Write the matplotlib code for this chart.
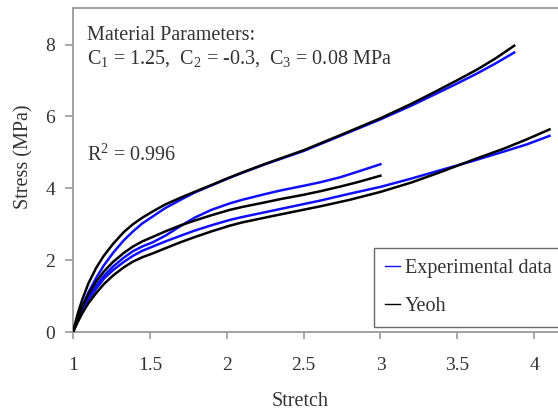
import matplotlib
matplotlib.use("Agg")
import matplotlib.pyplot as plt
from matplotlib.lines import Line2D

plt.rcParams['font.family'] = ['Liberation Serif', 'DejaVu Serif']
plt.rcParams['mathtext.fontset'] = 'custom'
plt.rcParams['mathtext.rm'] = 'Liberation Serif'
plt.rcParams['mathtext.it'] = 'Liberation Serif:italic'

# Test 1 (longest loading branch)
stretch_a = [1.0, 1.03, 1.06, 1.1, 1.15, 1.2, 1.26, 1.33, 1.39, 1.45, 1.52, 1.6, 1.7,
             1.79, 1.9, 2.0, 2.1, 2.25, 2.5, 2.75, 3.0, 3.2, 3.37, 3.5, 3.63, 3.75, 3.87]
exp_a = [0.0, 0.38, 0.72, 1.1, 1.5, 1.85, 2.2, 2.55, 2.8, 3.02, 3.22, 3.45, 3.68,
         3.88, 4.08, 4.26, 4.43, 4.67, 5.04, 5.48, 5.92, 6.3, 6.65, 6.92, 7.2, 7.48, 7.78]
yeoh_a = [0.0, 0.5, 0.9, 1.35, 1.78, 2.12, 2.45, 2.78, 3.0, 3.18, 3.36, 3.55, 3.74,
          3.9, 4.09, 4.27, 4.44, 4.68, 5.06, 5.5, 5.95, 6.35, 6.72, 7.01, 7.31, 7.62, 7.97]

# Test 2 (stops at stretch 3)
stretch_b = [1.0, 1.03, 1.06, 1.1, 1.15, 1.2, 1.26, 1.33, 1.39, 1.45, 1.52, 1.6, 1.7,
             1.79, 1.9, 2.02, 2.1, 2.25, 2.35, 2.5, 2.61, 2.74, 2.85, 3.0]
exp_b = [0.0, 0.33, 0.62, 0.95, 1.28, 1.56, 1.82, 2.07, 2.25, 2.38, 2.5, 2.68, 2.95,
         3.18, 3.4, 3.58, 3.68, 3.84, 3.94, 4.07, 4.17, 4.31, 4.46, 4.67]
yeoh_b = [0.0, 0.38, 0.7, 1.05, 1.4, 1.68, 1.95, 2.2, 2.38, 2.52, 2.65, 2.8, 2.97,
          3.1, 3.25, 3.4, 3.48, 3.61, 3.7, 3.82, 3.92, 4.05, 4.17, 4.35]

# Test 3 (loaded to stretch 4.1)
stretch_c = [1.0, 1.03, 1.06, 1.1, 1.15, 1.2, 1.26, 1.33, 1.39, 1.45, 1.52, 1.6, 1.7,
             1.79, 1.9, 2.02, 2.1, 2.3, 2.61, 2.8, 3.0, 3.2, 3.37, 3.6, 3.8, 3.95, 4.1]
exp_c = [0.0, 0.3, 0.58, 0.9, 1.2, 1.48, 1.72, 1.95, 2.12, 2.26, 2.38, 2.52, 2.68,
         2.82, 2.97, 3.12, 3.2, 3.38, 3.66, 3.85, 4.04, 4.27, 4.48, 4.76, 5.02, 5.22, 5.46]
yeoh_c = [0.0, 0.27, 0.52, 0.8, 1.08, 1.33, 1.57, 1.8, 1.96, 2.08, 2.19, 2.33, 2.5,
          2.64, 2.8, 2.96, 3.05, 3.23, 3.5, 3.68, 3.9, 4.16, 4.42, 4.79, 5.1, 5.36, 5.64]

x_ticks = [1, 1.5, 2, 2.5, 3, 3.5, 4]
x_tick_labels = ['1', '1.5', '2', '2.5', '3', '3.5', '4']
y_ticks = [0, 2, 4, 6, 8]
y_tick_labels = ['0', '2', '4', '6', '8']

blue = '#1010ff'
text_color = '#333333'
spine_color = '#9a9a9a'

fig = plt.figure(figsize=(5.58, 4.11), dpi=100)
ax = fig.add_axes([73 / 558, 79 / 411, 1 - 73 / 558, 324 / 411])

for s, e in [(stretch_a, exp_a), (stretch_b, exp_b), (stretch_c, exp_c)]:
    ax.plot(s, e, color=blue, lw=1.8, solid_joinstyle='round', zorder=2)
for s, y in [(stretch_a, yeoh_a), (stretch_b, yeoh_b), (stretch_c, yeoh_c)]:
    ax.plot(s, y, color='black', lw=1.8, solid_joinstyle='round', zorder=3)

ax.set_xlim(1, 4.155)
ax.set_ylim(0, 9.02)
ax.set_xticks(x_ticks)
ax.set_xticklabels(x_tick_labels)
ax.set_yticks(y_ticks)
ax.set_yticklabels(y_tick_labels)
ax.tick_params(axis='x', direction='out', length=5, width=1.2, color=spine_color,
               pad=13, labelsize=14, labelcolor=text_color)
ax.tick_params(axis='y', direction='out', length=6, width=1.2, color=spine_color,
               pad=7, labelsize=14, labelcolor=text_color)

for side in ['left', 'bottom', 'top']:
    ax.spines[side].set_color(spine_color)
    ax.spines[side].set_linewidth(1.3)
ax.spines['right'].set_visible(False)

ax.set_xlabel('Stretch', fontsize=14.5, color=text_color)
ax.xaxis.set_label_coords(0.468, -0.215)
ax.xaxis.label.set_va('center')
ax.set_ylabel('Stress (MPa)', fontsize=14.5, color=text_color)
ax.yaxis.set_label_coords(-0.102, 0.54)
ax.yaxis.label.set_va('center')

ax.text(14 / 485, 1 - 32 / 324, 'Material Parameters:', transform=ax.transAxes,
        fontsize=14.5, color=text_color, va='baseline')
ax.text(14 / 485, 1 - 56 / 324,
        r'C$_1$ = 1.25,  C$_2$ = -0.3,  C$_3$ = 0.08 MPa', transform=ax.transAxes,
        fontsize=14.5, color=text_color, va='baseline')
ax.text(14 / 485, 1 - 153 / 324, r'R$^2$ = 0.996', transform=ax.transAxes,
        fontsize=14.5, color=text_color, va='baseline')

handles = [Line2D([], [], color=blue, lw=1.0), Line2D([], [], color='black', lw=1.0)]
leg = ax.legend(handles, ['Experimental data', 'Yeoh'], loc='lower left',
                bbox_to_anchor=(0.6206, 0.0154), fontsize=14.5, frameon=True,
                fancybox=False, handlelength=0.75, handletextpad=0.25,
                labelspacing=0.95, borderpad=0.55, borderaxespad=0)
leg.get_frame().set_edgecolor('#444444')
leg.get_frame().set_linewidth(1.0)
for t in leg.get_texts():
    t.set_color(text_color)

fig.savefig('out.png', dpi=100)
